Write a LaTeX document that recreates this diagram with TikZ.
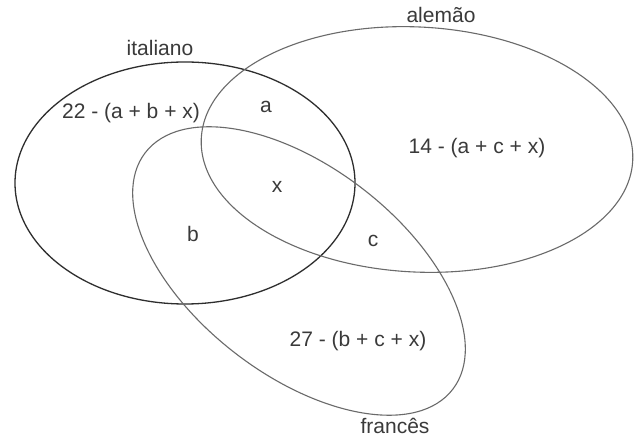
\documentclass[tikz,border=0pt]{standalone}
\usepackage{fontspec}
\setmainfont{Liberation Sans}
\definecolor{txt}{HTML}{3A3A3A}
\definecolor{dark}{HTML}{2E2E2E}
\definecolor{grayline}{HTML}{6A6A6A}
\begin{document}
\begin{tikzpicture}[x=1pt,y=1pt,
  lbl/.style={inner sep=0pt, text=txt, font=\fontsize{21}{25}\selectfont},
  setdark/.style={draw=dark, line width=1.3pt},
  setgray/.style={draw=grayline, line width=1.1pt}]
\useasboundingbox[fill=white] (0,0) rectangle (640,439);
% sets
\draw[setdark] (185,256) ellipse [x radius=170pt, y radius=121pt];
\draw[setgray, rotate around={-3:(417,289.5)}] (417,289.5) ellipse [x radius=216pt, y radius=122.5pt];
\draw[setgray, rotate around={-37.6:(299,168)}] (299,168) ellipse [x radius=194pt, y radius=104pt];
% set names
\node[lbl] (nit) at (160,391) {italiano};
\node[lbl] (nal) at (441,424) {alemão};
\node[lbl] (nfr) at (395,13) {francês};
% regions
\node[lbl] (rit) at (131,326) {22 - (a + b + x)};
\node[lbl] (ra) at (266,332) {a};
\node[lbl] (ral) at (477,291) {14 - (a + c + x)};
\node[lbl] (rx) at (277,252) {x};
\node[lbl] (rb) at (193,205) {b};
\node[lbl] (rc) at (373,198) {c};
\node[lbl] (rfr) at (358,98) {27 - (b + c + x)};
\end{tikzpicture}
\end{document}
